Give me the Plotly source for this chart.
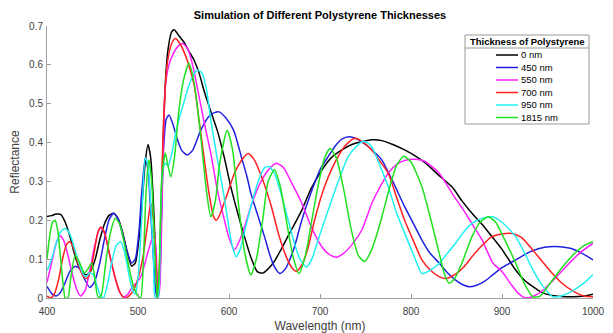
import plotly.graph_objects as go

# ---- data ----
series_names = ["0 nm", "450 nm", "550 nm", "700 nm", "950 nm", "1815 nm"]
series_colors = ["#000000", "#2020e0", "#ff20ff", "#ff2020", "#20f0f0", "#20e020"]

wl_0 = [400, 405, 410, 415, 420, 425, 430, 435, 440, 444, 448, 453, 458, 463, 468, 473, 478, 483, 488, 493,
        497, 501, 505, 508, 511, 514, 517, 520, 522, 524, 527, 530, 533, 537, 540, 545, 550, 556, 561, 567,
        573, 580, 587, 595, 602, 610, 617, 624, 631, 637, 643, 650, 657, 665, 672, 680, 690, 702, 712, 724,
        735, 746, 757, 768, 780, 793, 805, 816, 830, 845, 856, 867, 878, 890, 900, 915, 925, 934, 943, 952,
        965, 978, 990, 1000]
r_0 = [0.21, 0.212, 0.216, 0.215, 0.195, 0.16, 0.115, 0.08, 0.063, 0.06, 0.07, 0.10, 0.15, 0.19, 0.212, 0.218,
       0.205, 0.17, 0.12, 0.082, 0.09, 0.15, 0.26, 0.35, 0.395, 0.36, 0.24, 0.08, 0.0, 0.05, 0.35, 0.55, 0.64,
       0.685, 0.69, 0.675, 0.66, 0.635, 0.615, 0.58, 0.53, 0.48, 0.432, 0.36, 0.286, 0.215, 0.158, 0.105,
       0.068, 0.064, 0.075, 0.095, 0.124, 0.16, 0.19, 0.226, 0.28, 0.329, 0.36, 0.381, 0.395, 0.402, 0.407,
       0.405, 0.395, 0.381, 0.365, 0.347, 0.317, 0.286, 0.25, 0.218, 0.19, 0.155, 0.125, 0.072, 0.045, 0.029,
       0.015, 0.008, 0.004, 0.003, 0.005, 0.01]

wl_450 = [400, 405, 410, 415, 420, 425, 431, 436, 441, 447, 452, 458, 463, 468, 473, 478, 483, 488, 493, 497,
          501, 504, 508, 511, 514, 517, 520, 522, 525, 528, 531, 534, 538, 543, 548, 554, 560, 569, 578, 584,
          589, 596, 605, 614, 620, 624, 632, 639, 645, 650, 656, 662, 667, 672, 680, 690, 700, 709, 717, 724,
          732, 740, 750, 760, 768, 780, 793, 803, 812, 821, 831, 840, 849, 857, 864, 872, 882, 890, 900, 915,
          930, 942, 952, 964, 975, 988, 1000]
r_450 = [0.03, 0.012, 0.005, 0.015, 0.04, 0.068, 0.082, 0.075, 0.05, 0.027, 0.04, 0.09, 0.15, 0.2, 0.218,
         0.205, 0.165, 0.12, 0.09, 0.1, 0.17, 0.27, 0.36, 0.33, 0.22, 0.1, 0.01, 0.0, 0.15, 0.38, 0.46, 0.471,
         0.45, 0.41, 0.38, 0.368, 0.38, 0.432, 0.468, 0.477, 0.479, 0.465, 0.432, 0.36, 0.31, 0.27, 0.21,
         0.158, 0.11, 0.08, 0.063, 0.075, 0.1, 0.132, 0.2, 0.27, 0.33, 0.364, 0.392, 0.409, 0.415, 0.41,
         0.395, 0.375, 0.355, 0.3, 0.235, 0.19, 0.149, 0.115, 0.09, 0.065, 0.046, 0.034, 0.029, 0.033, 0.045,
         0.06, 0.078, 0.098, 0.118, 0.128, 0.132, 0.132, 0.128, 0.115, 0.098]

wl_550 = [400, 405, 410, 414, 418, 423, 428, 433, 437, 442, 447, 452, 457, 460, 464, 469, 474, 479, 484, 489,
          494, 499, 504, 510, 515, 518, 520, 522, 524, 527, 530, 534, 538, 543, 549, 555, 560, 565, 572, 580,
          587, 595, 600, 606, 612, 618, 624, 633, 643, 652, 660, 668, 680, 690, 702, 710, 718, 726, 736, 746,
          757, 766, 775, 785, 795, 805, 815, 831, 845, 860, 870, 878, 890, 900, 910, 918, 926, 935, 945, 958,
          970, 985, 1000]
r_550 = [0.04, 0.09, 0.14, 0.16, 0.15, 0.11, 0.06, 0.02, 0.005, 0.02, 0.07, 0.13, 0.175, 0.18, 0.16, 0.11,
         0.06, 0.02, 0.003, 0.01, 0.03, 0.04, 0.06, 0.11, 0.15, 0.16, 0.12, 0.0, 0.03, 0.3, 0.544, 0.6, 0.625,
         0.645, 0.655, 0.64, 0.6, 0.544, 0.46, 0.372, 0.28, 0.2, 0.155, 0.124, 0.15, 0.19, 0.235, 0.29, 0.329,
         0.347, 0.335, 0.3, 0.244, 0.185, 0.132, 0.112, 0.105, 0.115, 0.14, 0.175, 0.244, 0.286, 0.321, 0.345,
         0.355, 0.357, 0.352, 0.321, 0.27, 0.218, 0.18, 0.15, 0.09, 0.068, 0.035, 0.012, 0.0, 0.005, 0.02,
         0.05, 0.08, 0.115, 0.141]

wl_700 = [400, 404, 408, 413, 418, 422, 425, 429, 434, 440, 444, 448, 452, 456, 459, 463, 468, 474, 480, 485,
          490, 495, 500, 505, 510, 514, 517, 520, 522, 525, 528, 532, 537, 541, 546, 552, 557, 562, 567, 572,
          578, 583, 586, 590, 597, 606, 614, 621, 628, 635, 646, 655, 664, 670, 674, 680, 687, 694, 704, 716,
          727, 738, 748, 757, 765, 775, 784, 793, 803, 812, 822, 831, 838, 848, 858, 867, 878, 889, 900, 911,
          922, 935, 952, 965, 980, 990, 1000]
r_700 = [0.005, 0.0, 0.01, 0.05, 0.11, 0.14, 0.145, 0.13, 0.09, 0.055, 0.05, 0.07, 0.12, 0.17, 0.183, 0.17,
         0.12, 0.06, 0.015, 0.0, 0.005, 0.02, 0.05, 0.1, 0.18, 0.244, 0.2, 0.08, 0.0, 0.2, 0.45, 0.6, 0.655,
         0.668, 0.655, 0.625, 0.59, 0.544, 0.46, 0.372, 0.27, 0.21, 0.2, 0.215, 0.26, 0.321, 0.355, 0.372,
         0.355, 0.317, 0.24, 0.16, 0.1, 0.075, 0.068, 0.085, 0.13, 0.2, 0.28, 0.347, 0.39, 0.411, 0.4, 0.38,
         0.355, 0.321, 0.26, 0.2, 0.145, 0.098, 0.07, 0.055, 0.05, 0.06, 0.08, 0.106, 0.135, 0.158, 0.165,
         0.166, 0.155, 0.12, 0.072, 0.04, 0.015, 0.005, 0.003]

wl_950 = [400, 405, 410, 415, 420, 425, 430, 435, 440, 443, 447, 451, 455, 459, 462, 466, 471, 476, 481, 485,
          490, 494, 497, 500, 504, 508, 511, 514, 517, 519, 522, 524, 527, 530, 533, 537, 541, 545, 550, 555,
          560, 565, 570, 575, 580, 587, 594, 600, 604, 608, 613, 618, 624, 632, 639, 644, 650, 657, 665, 672,
          678, 685, 691, 698, 709, 720, 731, 740, 746, 752, 757, 766, 775, 784, 793, 803, 812, 820, 831, 840,
          849, 858, 867, 878, 889, 900, 915, 925, 934, 945, 956, 965, 975, 988, 1000]
r_950 = [0.07, 0.1, 0.14, 0.17, 0.179, 0.165, 0.13, 0.09, 0.06, 0.055, 0.065, 0.06, 0.03, 0.005, 0.0, 0.03,
         0.09, 0.135, 0.145, 0.12, 0.06, 0.02, 0.01, 0.05, 0.2, 0.36, 0.34, 0.24, 0.1, 0.0, 0.0, 0.1, 0.33,
         0.347, 0.34, 0.37, 0.42, 0.46, 0.5, 0.54, 0.57, 0.587, 0.58, 0.54, 0.458, 0.36, 0.27, 0.18, 0.13,
         0.106, 0.13, 0.18, 0.235, 0.3, 0.335, 0.338, 0.32, 0.27, 0.2, 0.14, 0.1, 0.08, 0.1, 0.15, 0.226, 0.3,
         0.364, 0.39, 0.402, 0.4, 0.389, 0.34, 0.286, 0.22, 0.167, 0.11, 0.063, 0.07, 0.089, 0.115, 0.141,
         0.17, 0.192, 0.205, 0.209, 0.195, 0.158, 0.115, 0.072, 0.03, 0.003, 0.005, 0.015, 0.035, 0.06]

wl_1815 = [400, 403, 406, 409, 412, 415, 418, 420, 423, 426, 431, 436, 441, 445, 449, 452, 455, 457, 460, 464,
           469, 475, 480, 485, 490, 495, 500, 503, 506, 509, 512, 515, 518, 521, 523, 526, 530, 533, 536, 540,
           545, 550, 556, 562, 569, 575, 580, 585, 590, 598, 604, 610, 617, 624, 630, 637, 643, 650, 656, 663,
           670, 677, 684, 691, 698, 705, 711, 718, 726, 734, 742, 749, 756, 762, 768, 776, 784, 792, 800, 812,
           822, 831, 837, 842, 848, 856, 867, 876, 885, 893, 905, 915, 925, 934, 942, 952, 960, 970, 980, 990,
           1000]
r_1815 = [0.1, 0.16, 0.195, 0.2, 0.17, 0.1, 0.03, 0.0, 0.0, 0.05, 0.11, 0.09, 0.065, 0.075, 0.09, 0.06, 0.01,
          0.0, 0.01, 0.08, 0.16, 0.205, 0.19, 0.14, 0.08, 0.03, 0.005, 0.0, 0.1, 0.28, 0.355, 0.3, 0.15, 0.0,
          0.05, 0.3, 0.373, 0.34, 0.312, 0.36, 0.484, 0.56, 0.604, 0.55, 0.415, 0.28, 0.209, 0.25, 0.35, 0.432,
          0.38, 0.25, 0.12, 0.059, 0.1, 0.2, 0.3, 0.33, 0.29, 0.2, 0.11, 0.063, 0.11, 0.2, 0.29, 0.36, 0.385,
          0.36, 0.28, 0.18, 0.11, 0.094, 0.12, 0.16, 0.209, 0.28, 0.34, 0.365, 0.35, 0.286, 0.2, 0.115, 0.06,
          0.038, 0.05, 0.09, 0.158, 0.195, 0.209, 0.195, 0.14, 0.09, 0.035, 0.003, 0.005, 0.035, 0.06, 0.09,
          0.115, 0.135, 0.145]

x_ticks = [400, 500, 600, 700, 800, 900, 1000]
y_ticks = [0, 0.1, 0.2, 0.3, 0.4, 0.5, 0.6, 0.7]
y_tick_text = ["0", "0.1", "0.2", "0.3", "0.4", "0.5", "0.6", "0.7"]

wl_all = [wl_0, wl_450, wl_550, wl_700, wl_950, wl_1815]
r_all = [r_0, r_450, r_550, r_700, r_950, r_1815]

FONT = "Liberation Sans, Arial, sans-serif"
AX = "#a0a0a0"
TXT = "#404040"

# page body has an 8px margin: the figure is sized/offset to compensate
FW, FH = 605, 325

fig = go.Figure()
for name, col, xs, ys in zip(series_names, series_colors, wl_all, r_all):
    fig.add_trace(go.Scatter(x=xs, y=ys, mode="lines", name=name,
                             line=dict(color=col, width=1.5, shape="spline", smoothing=0.6),
                             showlegend=False))

fig.update_layout(
    width=FW, height=FH,
    margin=dict(l=39, r=20, t=18, b=35),
    paper_bgcolor="white", plot_bgcolor="white",
    font=dict(family=FONT, size=10, color=TXT),
    title=dict(text="<b>Simulation of Different Polystyrene Thicknesses</b>",
               font=dict(family=FONT, size=11, color="#000000"),
               x=0.5, xref="paper", y=1 - 7 / FH, yref="container", yanchor="middle"),
    xaxis=dict(range=[400, 1000], tickvals=x_ticks, ticks="inside", ticklen=4, tickcolor=AX,
               ticklabelstandoff=4, automargin=False,
               showline=True, linecolor=AX, linewidth=1, showgrid=False, zeroline=False,
               title=dict(text="Wavelength (nm)", font=dict(size=12, color=TXT), standoff=5)),
    yaxis=dict(range=[0, 0.7], tickvals=y_ticks, ticktext=y_tick_text, automargin=False,
               ticks="inside", ticklen=4, tickcolor=AX, ticklabelstandoff=1,
               showline=True, linecolor=AX, linewidth=1, showgrid=False, zeroline=False,
               title=dict(text="Reflectance", font=dict(size=12, color=TXT), standoff=6)),
)

# ---- legend drawn by hand (compact MATLAB style); positions in plot-area fractions ----
W, H, L, B = 546.0, 272.0, 47.0, 298.0
def px(xp):
    return (xp - L) / W
def py(yp):
    return (B - yp) / H

fig.add_shape(type="rect", xref="paper", yref="paper", x0=px(465), x1=px(589), y0=py(124), y1=py(35),
              line=dict(color="#999999", width=1), fillcolor="white", layer="above")
fig.add_shape(type="line", xref="paper", yref="paper", x0=px(465), x1=px(589), y0=py(48), y1=py(48),
              line=dict(color="#999999", width=1), layer="above")
fig.add_annotation(xref="paper", yref="paper", x=px(527), y=py(41.5), text="<b>Thickness of Polystyrene</b>",
                   showarrow=False, font=dict(family=FONT, size=9.5, color="#000000"),
                   xanchor="center", yanchor="middle")
entry_y = [55, 67.5, 80, 92.5, 105, 117.5]
for name, col, ey in zip(series_names, series_colors, entry_y):
    fig.add_shape(type="line", xref="paper", yref="paper", x0=px(496), x1=px(518), y0=py(ey), y1=py(ey),
                  line=dict(color=col, width=1.5), layer="above")
    fig.add_annotation(xref="paper", yref="paper", x=px(519), y=py(ey), text=name, showarrow=False,
                       font=dict(family=FONT, size=9.5, color="#000000"), xanchor="left", yanchor="middle")

fig.write_html("out.html")
